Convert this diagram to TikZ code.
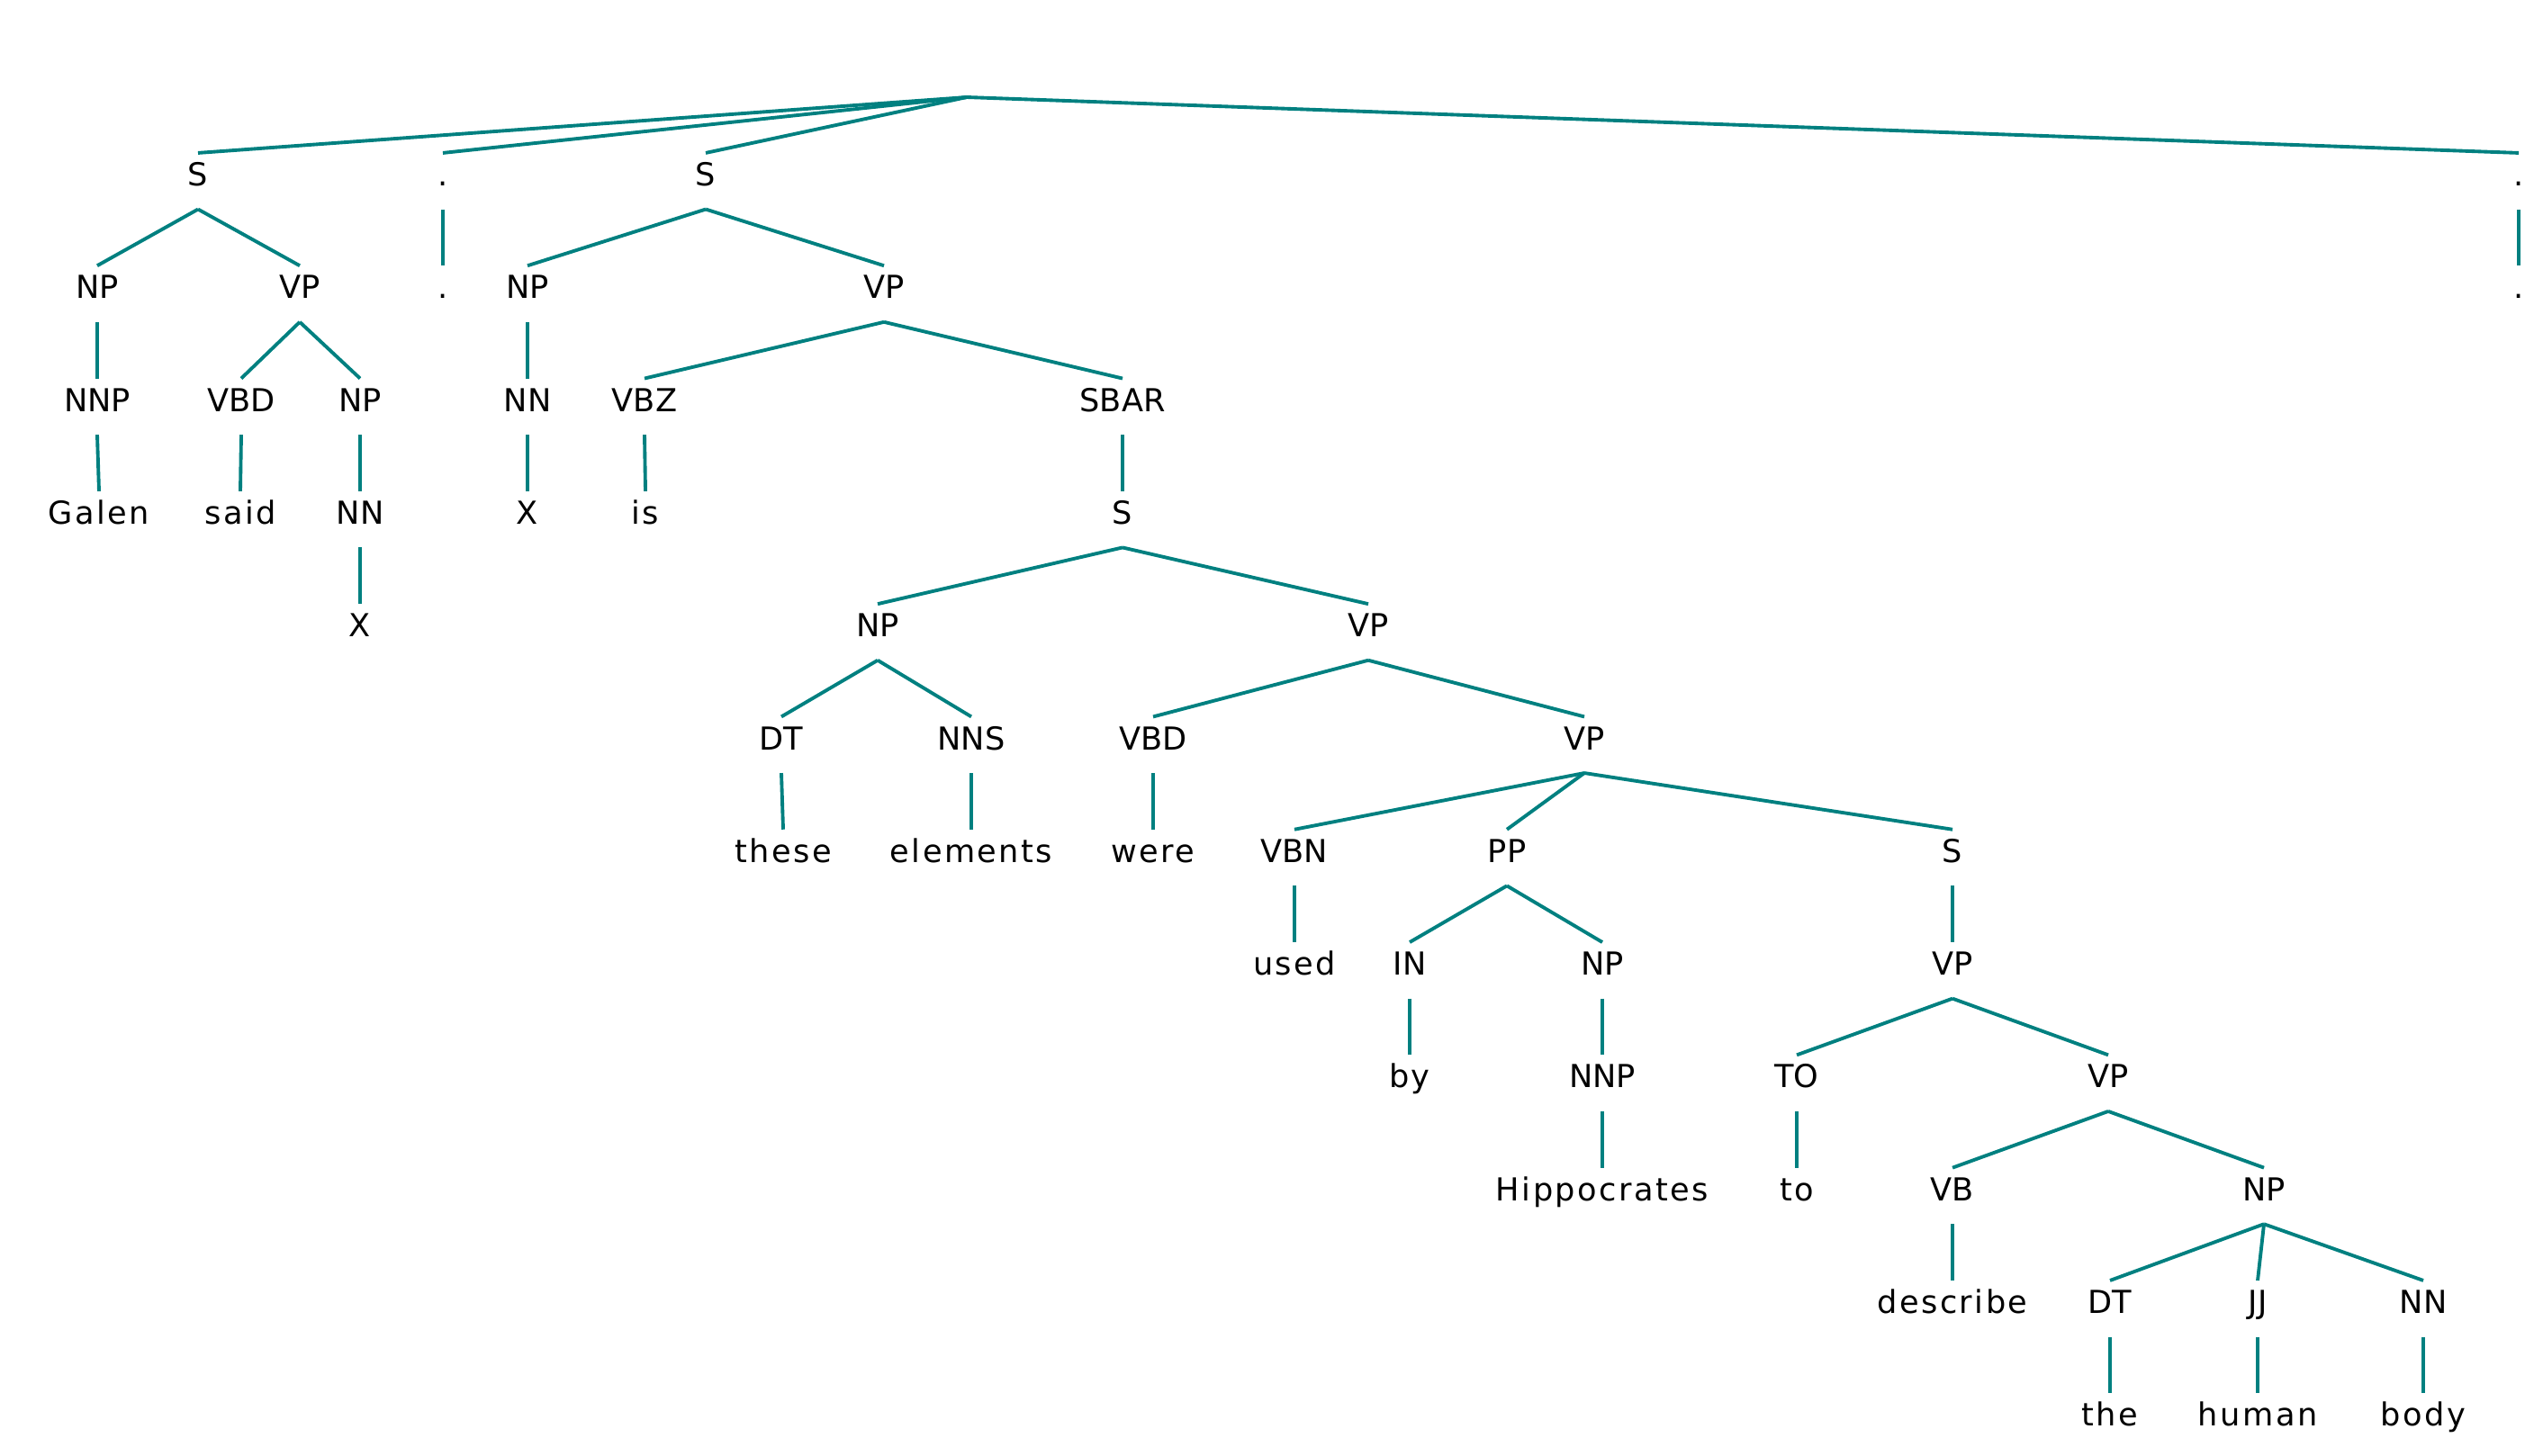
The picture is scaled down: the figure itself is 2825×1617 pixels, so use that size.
\documentclass[tikz,border=0pt]{standalone}
\usepackage{fontspec}
\setmainfont{DejaVu Sans}
\usepackage{tikz}
\usetikzlibrary{positioning}
\usepackage{xcolor}
\definecolor{colBranch}{RGB}{0, 128, 128}

\begin{document}
\begin{tikzpicture}[
  x=0.01cm, y=-0.01cm,
  tag/.style={anchor=base, inner sep=0pt, text height=10.2pt,
              text depth=7.2pt, font=\normalsize},
  leaf/.style={tag, font=\normalsize\addfontfeatures{LetterSpace=7}},
  branch/.style={draw=colBranch, line width=1.1pt}
]
\useasboundingbox (0,0) rectangle (2825,1617);

% ---------- Root ----------
\coordinate (root) at (1074,108);

% ---------- Row 1 ----------
\node[tag] (s1)   at (220,206.5)  {S};
\node[tag] (dt1)  at (492,206.5)  {.};
\node[tag] (s2)   at (784,206.5)  {S};
\node[tag] (dt2)  at (2798,206.5) {.};

% ---------- Row 2 ----------
\node[tag] (np1)  at (108,331.8)  {NP};
\node[tag] (vp1)  at (333,331.8)  {VP};
\node[tag] (dt1b) at (492,331.8)  {.};
\node[tag] (np2)  at (586,331.8)  {NP};
\node[tag] (vp2)  at (982,331.8)  {VP};
\node[tag] (dt2b) at (2798,331.8) {.};

% ---------- Row 3 ----------
\node[tag] (nnp1) at (108,457.1)  {NNP};
\node[tag] (vbd1) at (268,457.1)  {VBD};
\node[tag] (np3)  at (400,457.1)  {NP};
\node[tag] (nn1)  at (586,457.1)  {NN};
\node[tag] (vbz)  at (716,457.1)  {VBZ};
\node[tag] (sbar) at (1247,457.1) {SBAR};

% ---------- Row 4 ----------
\node[leaf] (galen) at (110,582.4)  {Galen};
\node[leaf] (said)  at (267,582.4)  {said};
\node[tag]  (nn2)   at (400,582.4)  {NN};
\node[leaf] (x1)    at (586,582.4)  {X};
\node[leaf] (is)    at (717,582.4)  {is};
\node[tag]  (s3)    at (1247,582.4) {S};

% ---------- Row 5 ----------
\node[leaf] (x2)  at (400,707.7)  {X};
\node[tag]  (np4) at (975,707.7)  {NP};
\node[tag]  (vp3) at (1520,707.7) {VP};

% ---------- Row 6 ----------
\node[tag] (dt3)  at (868,833)    {DT};
\node[tag] (nns)  at (1079,833)   {NNS};
\node[tag] (vbd2) at (1281,833)   {VBD};
\node[tag] (vp4)  at (1760,833)   {VP};

% ---------- Row 7 ----------
\node[leaf] (these)    at (870,958.3)  {these};
\node[leaf] (elements) at (1079,958.3) {elements};
\node[leaf] (were)     at (1281,958.3) {were};
\node[tag]  (vbn)      at (1438,958.3) {VBN};
\node[tag]  (pp)       at (1674,958.3) {PP};
\node[tag]  (s4)       at (2169,958.3) {S};

% ---------- Row 8 ----------
\node[leaf] (used) at (1438,1083.6) {used};
\node[tag]  (in)   at (1566,1083.6) {IN};
\node[tag]  (np5)  at (1780,1083.6) {NP};
\node[tag]  (vp5)  at (2169,1083.6) {VP};

% ---------- Row 9 ----------
\node[leaf] (by)   at (1566,1208.9) {by};
\node[tag]  (nnp2) at (1780,1208.9) {NNP};
\node[tag]  (to1)  at (1996,1208.9) {TO};
\node[tag]  (vp6)  at (2342,1208.9) {VP};

% ---------- Row 10 ----------
\node[leaf] (hippo) at (1780,1334.2) {Hippocrates};
\node[leaf] (to2)   at (1996,1334.2) {to};
\node[tag]  (vb)    at (2169,1334.2) {VB};
\node[tag]  (np6)   at (2515,1334.2) {NP};

% ---------- Row 11 ----------
\node[leaf] (describe) at (2169,1459.5) {describe};
\node[tag]  (dt4)      at (2344,1459.5) {DT};
\node[tag]  (jj)       at (2508,1459.5) {JJ};
\node[tag]  (nn3)      at (2692,1459.5) {NN};

% ---------- Row 12 ----------
\node[leaf] (the)   at (2344,1584.8) {the};
\node[leaf] (human) at (2508,1584.8) {human};
\node[leaf] (body)  at (2692,1584.8) {body};

% ---------- Branches ----------
\foreach \kid in {s1, dt1, s2, dt2}
  \draw[branch] (root) -- (\kid.north);
\foreach \mom/\kid in {s1/np1, s1/vp1, dt1/dt1b, s2/np2, s2/vp2, dt2/dt2b,
                       np1/nnp1, vp1/vbd1, vp1/np3, np2/nn1, vp2/vbz, vp2/sbar,
                       nnp1/galen, vbd1/said, np3/nn2, nn1/x1, vbz/is, sbar/s3,
                       nn2/x2, s3/np4, s3/vp3,
                       np4/dt3, np4/nns, vp3/vbd2, vp3/vp4,
                       dt3/these, nns/elements, vbd2/were,
                       vp4/vbn, vp4/pp, vp4/s4,
                       vbn/used, pp/in, pp/np5, s4/vp5,
                       in/by, np5/nnp2, vp5/to1, vp5/vp6,
                       nnp2/hippo, to1/to2, vp6/vb, vp6/np6,
                       vb/describe, np6/dt4, np6/jj, np6/nn3,
                       dt4/the, jj/human, nn3/body}
  \draw[branch] (\mom.south) -- (\kid.north);

\end{tikzpicture}
\end{document}
